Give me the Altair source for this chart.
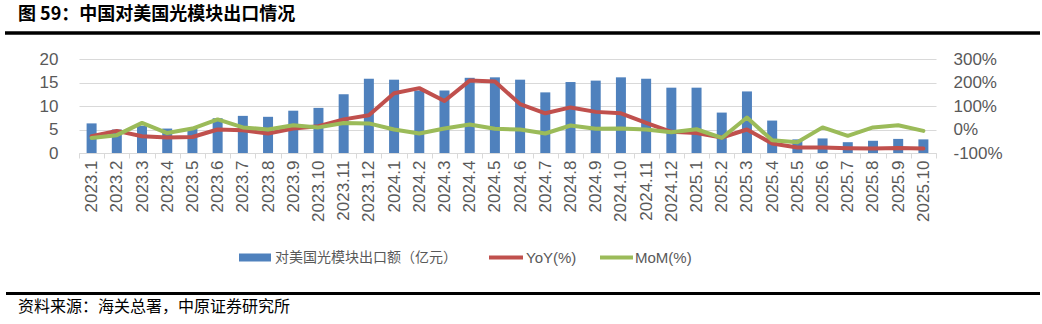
import altair as alt
import pandas as pd

months = ["2023.1", "2023.2", "2023.3", "2023.4", "2023.5", "2023.6", "2023.7", "2023.8",
          "2023.9", "2023.10", "2023.11", "2023.12", "2024.1", "2024.2", "2024.3", "2024.4",
          "2024.5", "2024.6", "2024.7", "2024.8", "2024.9", "2024.10", "2024.11", "2024.12",
          "2025.1", "2025.2", "2025.3", "2025.4", "2025.5", "2025.6", "2025.7", "2025.8",
          "2025.9", "2025.10"]
export_value = [6.3, 5.0, 5.8, 5.2, 5.2, 7.4, 7.9, 7.7, 9.0, 9.6, 12.5, 15.8, 15.6, 13.3,
                13.3, 16.0, 16.1, 15.6, 12.9, 15.1, 15.4, 16.1, 15.8, 13.9, 13.9, 8.6, 13.1,
                6.9, 2.9, 3.1, 2.3, 2.6, 3.0, 2.9]
yoy = [-29, -6, -29, -34, -32, 0, -3, -17, 4, 14, 43, 61, 154, 176, 121, 208, 204, 108,
       69, 94, 75, 69, 28, -10, -15, -34, 0, -60, -77, -77, -80, -81, -79, -81]
mom = [-36, -24, 28, -15, 4, 43, 9, 0, 18, 9, 28, 26, 0, -17, 4, 21, 3, 0, -17, 17, 3, 4,
       0, -12, 1, -36, 51, -46, -54, 9, -27, 9, 18, -6]

title_text = "图 59：中国对美国光模块出口情况"
source_text = "资料来源：海关总署，中原证券研究所"
legend_labels = ["对美国光模块出口额（亿元）", "YoY(%)", "MoM(%)"]
colors = ["#4F81BD", "#C0504D", "#9BBB59"]

df = pd.DataFrame({"month": months, "export": export_value, "yoy": yoy, "mom": mom})
long_df = pd.concat([
    pd.DataFrame({"month": months, "series": "YoY", "order": 0, "pct": yoy}),
    pd.DataFrame({"month": months, "series": "MoM", "order": 1, "pct": mom}),
])

GRAY = "#595959"
LAT = "Liberation Sans"
CJK = "Noto Sans CJK SC"

x_enc = alt.X(
    "month:N", sort=months,
    scale=alt.Scale(paddingInner=0, paddingOuter=0),
    axis=alt.Axis(title=None, labelAngle=270, labelFont=LAT, labelFontSize=17,
                  labelColor=GRAY, domainColor="#d9d9d9", tickColor="#d9d9d9",
                  tickSize=5, tickBand="extent", labelPadding=2),
)

bars = alt.Chart(df).mark_bar(size=10, color=colors[0]).encode(
    x=x_enc,
    y=alt.Y("export:Q", scale=alt.Scale(domain=[0, 20], nice=False),
            axis=alt.Axis(title=None, values=[0, 5, 10, 15, 20], grid=True,
                          gridColor="#d9d9d9", domain=False, ticks=False,
                          labelPadding=21, labelFont=LAT, labelFontSize=17,
                          labelColor=GRAY)),
)

lines = alt.Chart(long_df).mark_line(strokeWidth=4, strokeJoin="round",
                                     strokeCap="round").encode(
    x=alt.X("month:N", sort=months),
    y=alt.Y("pct:Q", scale=alt.Scale(domain=[-100, 300], nice=False),
            axis=alt.Axis(title=None, orient="right", values=[-100, 0, 100, 200, 300],
                          labelExpr="datum.value + '%'", grid=False, domain=False,
                          ticks=False, labelPadding=17, labelFont=LAT, labelFontSize=17,
                          labelColor=GRAY)),
    color=alt.Color("series:N", scale=alt.Scale(domain=["YoY", "MoM"],
                                                range=[colors[1], colors[2]]),
                    legend=None),
    detail="order:O",
)

one = alt.Data(values=[{"a": 1}])

def txt(s, x, y, size, font, weight="normal", color="#000000"):
    return alt.Chart(one).mark_text(align="left", baseline="middle", fontSize=size,
                                    font=font, fontWeight=weight, color=color).encode(
        x=alt.value(x), y=alt.value(y), text=alt.value(s))

def hrule(x1, x2, y, color, width):
    return alt.Chart(one).mark_rule(color=color, strokeWidth=width).encode(
        x=alt.value(x1), x2=alt.value(x2), y=alt.value(y))

title = txt(title_text, -61, -44, 18, CJK, "bold")
top_rule = hrule(-74, 961, -26, "#000000", 3.5)
bottom_rule = hrule(-73, 961, 234.5, "#000000", 3)
source = txt(source_text, -61, 248, 16, CJK)

leg_rect = alt.Chart(one).mark_rect(color=colors[0]).encode(
    x=alt.value(160), x2=alt.value(192), y=alt.value(194.5), y2=alt.value(202.5))
leg_t1 = txt(legend_labels[0], 196, 198.5, 14, CJK, color=GRAY)
leg_r2 = hrule(410, 444, 198.5, colors[1], 4)
leg_t2 = txt(legend_labels[1], 447, 198.5, 15, LAT, color=GRAY)
leg_r3 = hrule(521, 554, 198.5, colors[2], 4)
leg_t3 = txt(legend_labels[2], 556, 198.5, 15, LAT, color=GRAY)

main = alt.layer(bars, lines).resolve_scale(y="independent")

chart = alt.layer(
    main, title, top_rule, bottom_rule, source,
    leg_rect, leg_t1, leg_r2, leg_t2, leg_r3, leg_t3,
).properties(
    width=857, height=94,
    autosize=alt.AutoSizeParams(type="none"),
    padding={"left": 79, "top": 59, "right": 106, "bottom": 171},
    background="white",
).configure_view(stroke=None)

chart.save("out.html", embed_options={"renderer": "svg", "actions": False})
